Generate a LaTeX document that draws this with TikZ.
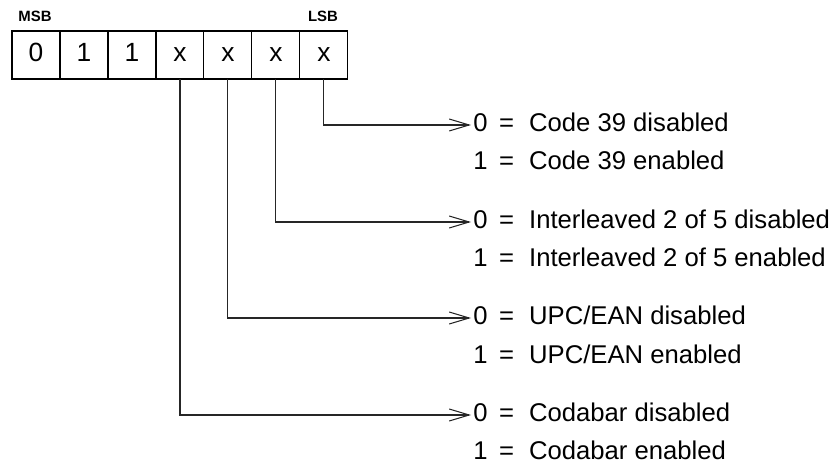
\documentclass[tikz,border=0pt]{standalone}
\usepackage{fontspec}
\setmainfont{Liberation Sans}
\usetikzlibrary{positioning}
\usetikzlibrary{arrows.meta}

\newcommand{\iseq}{\hspace{2.5pt} = \hspace{4.5pt}}

\begin{document}
\begin{tikzpicture}[x=0.02cm,y=-0.02cm,
  bitcell/.style={draw,line width=.6pt,minimum width=.96cm,minimum height=.96cm,
    inner sep=0pt,outer sep=0pt,text height=.72em,text depth=0pt,
    font=\fontsize{15}{18}\selectfont},
  choice/.style={anchor=west,inner xsep=.04cm,inner ysep=0pt,text height=.72em,
    text depth=0pt,font=\fontsize{14.6}{18}\selectfont},
  pick/.style={line width=.6pt,black!85,-{Straight Barb[length=.4cm,width=.24cm]}},
  endlabel/.style={font=\fontsize{8.5}{10}\selectfont\bfseries}]
\useasboundingbox (0,0) rectangle (837,465);
% the register, MSB first
\node[bitcell] (b6) at (36,55) {0};
\node[bitcell,right=0pt of b6] (b5) {1};
\node[bitcell,right=0pt of b5] (b4) {1};
\node[bitcell,right=0pt of b4] (b3) {x};
\node[bitcell,right=0pt of b3] (b2) {x};
\node[bitcell,right=0pt of b2] (b1) {x};
\node[bitcell,right=0pt of b1] (b0) {x};
\node[endlabel] (msb) at (35,16) {MSB};
\node[endlabel] (lsb) at (323,16) {LSB};
% meanings
\node[choice] (c0) at (471,125) {0\iseq Code 39 disabled};
\node[choice] (e0) at (471,163) {1\iseq Code 39 enabled};
\node[choice] (c1) at (471,222) {0\iseq Interleaved 2 of 5 disabled};
\node[choice] (e1) at (471,260) {1\iseq Interleaved 2 of 5 enabled};
\node[choice] (c2) at (471,318) {0\iseq UPC/EAN disabled};
\node[choice] (e2) at (471,357) {1\iseq UPC/EAN enabled};
\node[choice] (c3) at (471,415) {0\iseq Codabar disabled};
\node[choice] (e3) at (471,453) {1\iseq Codabar enabled};
% bit lines
\draw[pick] (b0.south) |- (c0.west);
\draw[pick] (b1.south) |- (c1.west);
\draw[pick] (b2.south) |- (c2.west);
\draw[pick] (b3.south) |- (c3.west);
\end{tikzpicture}
\end{document}
